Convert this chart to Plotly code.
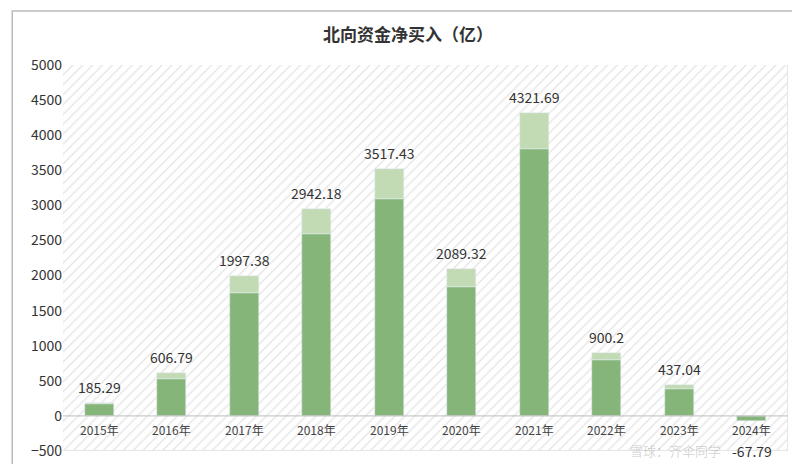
import plotly.graph_objects as go

years = ["2015年", "2016年", "2017年", "2018年", "2019年", "2020年", "2021年", "2022年", "2023年", "2024年"]
totals = [185.29, 606.79, 1997.38, 2942.18, 3517.43, 2089.32, 4321.69, 900.2, 437.04, -67.79]
# darker lower part of each bar
dark = [165, 530, 1750, 2590, 3090, 1840, 3800, 790, 385, -67.79]
top = [t - d for t, d in zip(totals, dark)]
xs = list(range(len(years)))

fig = go.Figure()

# hatched plot background, on the base axes so the bars sit above it
fig.add_trace(go.Bar(
    x=[4.5], y=[5500], base=[-500], width=[10],
    marker=dict(color="white", line=dict(width=0.8, color="#dcdcdc"),
                pattern=dict(shape="/", fgcolor="#cccccc", bgcolor="white", size=7, solidity=0.2)),
    hoverinfo="skip", showlegend=False))

fig.add_trace(go.Bar(x=xs, y=dark, marker_color="#86b57a", width=0.4, showlegend=False,
                     xaxis="x2", yaxis="y2"))
fig.add_trace(go.Bar(x=xs, y=[t if t > 0 else 0 for t in top], marker_color="#c3dbb5",
                     width=0.4, showlegend=False, xaxis="x2", yaxis="y2"))

for x, t in zip(xs, totals):
    fig.add_annotation(x=x, y=t, xref="x2", yref="y2", text=f"{t:g}", showarrow=False,
                       yshift=16 if t > 0 else -30, font=dict(size=14, color="#333"))
    fig.add_annotation(x=x, y=-190, xref="x2", yref="y2", text=years[x], showarrow=False,
                       font=dict(size=12, color="#444"))

fig.add_shape(type="line", xref="x2", yref="y2", x0=-0.5, x1=9.5, y0=0, y1=0,
              line=dict(color="#bdbdbd", width=1))
fig.add_shape(type="rect", xref="paper", yref="paper", x0=-0.07, x1=1.02, y0=-0.05, y1=1.14,
              line=dict(color="#bbbbbb", width=1.5))

fig.add_annotation(x=8.6, y=-490, xref="x2", yref="y2", text="雪球：齐伞同学", showarrow=False,
                   font=dict(size=13, color="rgba(120,120,120,0.3)"), xanchor="right")

ax = dict(range=[-0.5, 9.5], showticklabels=False, showgrid=False, zeroline=False)
fig.update_layout(
    width=800, height=464, barmode="relative", bargap=0,
    title=dict(text="<b>北向资金净买入（亿）</b>", x=0.5, y=0.955, font=dict(size=17, color="#333")),
    font=dict(family="Noto Sans CJK SC, Noto Sans, sans-serif"),
    margin=dict(l=55, r=20, t=57, b=18),
    plot_bgcolor="white", paper_bgcolor="white",
    xaxis=ax,
    xaxis2=dict(ax, overlaying="x"),
    yaxis=dict(range=[-500, 5000], dtick=500, showgrid=False, zeroline=False,
               tickfont=dict(size=14, color="#333"), ticks=""),
    yaxis2=dict(range=[-500, 5000], overlaying="y", showticklabels=False,
                showgrid=False, zeroline=False),
)

fig.write_html("out.html")
